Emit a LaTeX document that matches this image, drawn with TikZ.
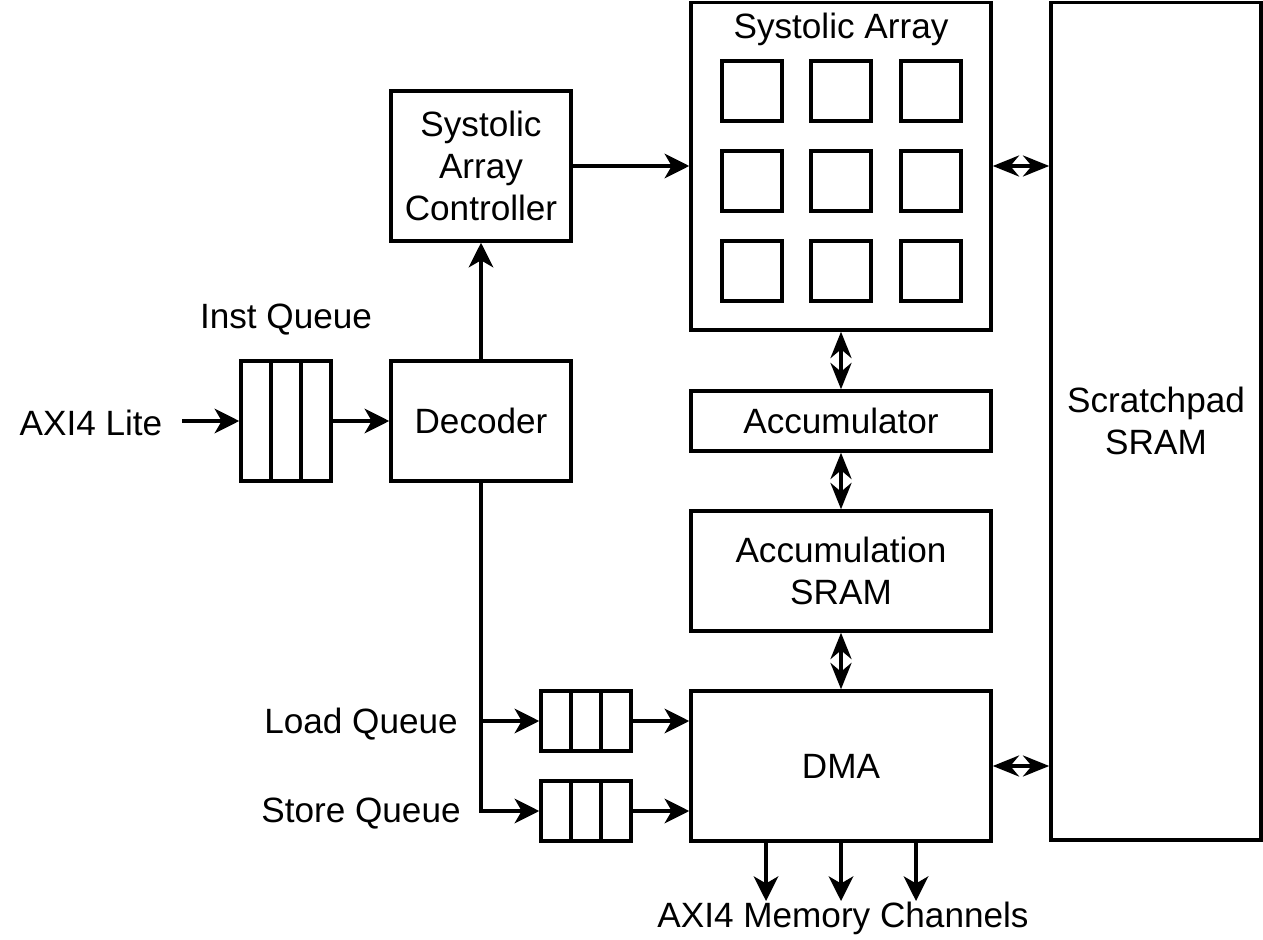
\documentclass[tikz,border=0pt]{standalone}
\usepackage{fontspec}
\setmainfont{Liberation Sans}
\usetikzlibrary{arrows.meta,calc}

\tikzset{
	box/.style={draw, line width=2pt, align=center},
	pe/.style={draw, line width=2pt, minimum size=1.2cm},
	queue/.style={draw, line width=2pt, minimum width=1.8cm, path picture={
			\foreach \k in {1,2}
			\draw[line width=2pt] ($(path picture bounding box.north west)!\k/3!(path picture bounding box.north east)$) -- ($(path picture bounding box.south west)!\k/3!(path picture bounding box.south east)$);}},
	arr/.style={line width=2pt, -{Stealth[length=14pt, width=14pt, inset=4pt]}},
	bidir/.style={line width=2pt, {Stealth[length=15pt, width=12pt, inset=5pt]}-{Stealth[length=15pt, width=12pt, inset=5pt]}}
}

\begin{document}
\begin{tikzpicture}[font=\fontsize{20}{24}\selectfont]
			\useasboundingbox (0,0) rectangle (25.26,18.78);
			\node[box, minimum width=6cm, minimum height=6.55cm] (sa) at (16.82,15.455) {};
			\node (satitle) at (16.82,18.2) {Systolic Array};
			\foreach \x [count=\i] in {15.04,16.82,18.62}
			\foreach \y [count=\j] in {16.96,15.16,13.36}
			{\node[pe] (pe\i\j) at (\x,\y) {};}
			\node[box, minimum width=4.2cm, minimum height=16.75cm] (sp) at (23.12,10.355) {Scratchpad\\SRAM};
			\node[box, minimum width=3.6cm, minimum height=3cm] (ctl) at (9.62,15.46) {Systolic\\Array\\Controller};
			\node[box, minimum width=3.6cm, minimum height=2.4cm] (dec) at (9.62,10.36) {Decoder};
			\node[queue, minimum height=2.4cm] (iq) at (5.72,10.36) {};
			\node (iqlabel) at (5.72,12.38) {Inst Queue};
			\node[inner xsep=0.39cm] (axi) at (1.82,10.32) {AXI4 Lite};
			\node[box, minimum width=6cm, minimum height=1.2cm] (acc) at (16.82,10.36) {Accumulator};
			\node[box, minimum width=6cm, minimum height=2.4cm] (accsram) at (16.82,7.36) {Accumulation\\SRAM};
			\node[box, minimum width=6cm, minimum height=3cm] (dma) at (16.82,3.46) {DMA};
			\node[queue, minimum height=1.2cm] (lq) at (11.72,4.36) {};
			\node[queue, minimum height=1.2cm] (sq) at (11.72,2.56) {};
			\node (lqlabel) at (7.22,4.3) {Load Queue};
			\node (sqlabel) at (7.22,2.5) {Store Queue};
			\node (mem) at (16.86,0.42) {AXI4 Memory Channels};
			\coordinate (ch1) at (15.32,0.76);
			\coordinate (ch2) at (16.82,0.76);
			\coordinate (ch3) at (18.32,0.76);
			\draw[arr] (axi.east |- iq.west) -- (iq.west);
			\draw[arr] (iq.east) -- (dec.west);
			\draw[arr] (dec.north) -- (ctl.south);
			\draw[arr] (ctl.east) -- (sa.west |- ctl.east);
			\draw[bidir] (sa.east |- ctl.east) -- (sp.west |- ctl.east);
			\draw[bidir] (sa.south) -- (acc.north);
			\draw[bidir] (acc.south) -- (accsram.north);
			\draw[bidir] (accsram.south) -- (dma.north);
			\draw[bidir] (dma.east) -- (sp.west |- dma.east);
			\draw[arr] (dec.south) |- (lq.west);
			\draw[arr] (dec.south) |- (sq.west);
			\draw[arr] (lq.east) -- (dma.west |- lq.east);
			\draw[arr] (sq.east) -- (dma.west |- sq.east);
			\foreach \c in {ch1,ch2,ch3}
			\draw[arr] (dma.south -| \c) -- (\c);
\end{tikzpicture}
\end{document}
